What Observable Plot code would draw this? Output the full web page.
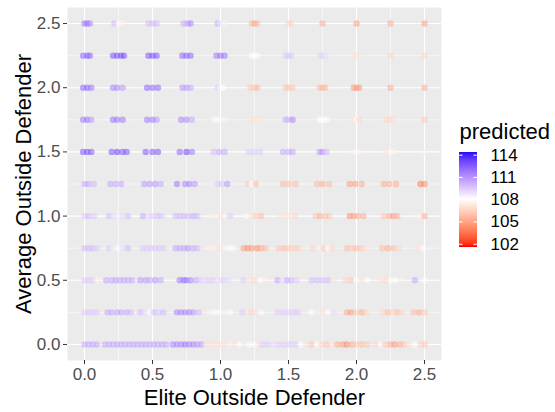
<!DOCTYPE html>
<html><head><meta charset="utf-8">
<script src="https://cdn.jsdelivr.net/npm/d3@7"></script>
<script src="https://cdn.jsdelivr.net/npm/@observablehq/plot@0.6"></script>
<style>
body{margin:0;background:#fff;}
#wrap{position:relative;width:555px;height:412px;font-family:"Liberation Sans",Arial,sans-serif;}
#main{position:absolute;left:0;top:0;}
#legend{position:absolute;left:447px;top:115px;}
</style></head><body><div id="wrap"><div id="main"></div><div id="legend"></div></div>
<script>
const xTitle = "Elite Outside Defender";
const yTitle = "Average Outside Defender";
const legendTitle = "predicted";
const majorTicks = [0, 0.5, 1, 1.5, 2, 2.5];
const minorTicks = [0.25, 0.75, 1.25, 1.75, 2.25];
const legendTicks = [102, 105, 108, 111, 114];
const rowLevels = [2.5, 2.25, 2.0, 1.75, 1.5, 1.25, 1.0, 0.75, 0.5, 0.25, 0];

// each row: [Elite Outside Defender, predicted]
const r250 = [[0,112],[0.02,112],[0.04,111.5],[0.22,110],[0.25,108],[0.28,107.5],[0.47,110],[0.5,110],[0.53,110],[0.73,110.5],[0.76,110.5],[0.78,111.5],[0.98,110.5],[1.0,108.5],[1.03,107.5],[1.23,105.5],[1.25,105],[1.27,105.5],[1.5,106.5],[1.52,106.5],[1.75,105],[2.0,104.5],[2.25,105],[2.5,104.5]];
const r225 = [[-0.01,112.5],[0.02,112.5],[0.04,112.5],[0.21,113],[0.24,113],[0.27,113],[0.29,113],[0.47,113],[0.5,113],[0.53,113],[0.72,112.5],[0.75,112.5],[0.78,112.5],[0.97,112],[1.0,112],[1.03,112],[1.23,108],[1.25,108],[1.27,108],[1.48,109.5],[1.5,109.5],[1.52,109.5],[1.74,109.5],[1.77,109],[1.99,107],[2.01,107],[2.25,106.5],[2.5,106.5]];
const r200 = [[-0.01,112.5],[0.02,112.5],[0.05,112],[0.21,111.5],[0.24,111.5],[0.28,111],[0.46,112.5],[0.5,112.5],[0.54,112.5],[0.72,111],[0.75,111],[0.78,110.5],[0.98,109.5],[1.0,108],[1.02,108],[1.22,106],[1.25,106],[1.27,105.5],[1.48,106],[1.5,106],[1.53,106],[1.73,105.5],[1.75,105.5],[1.77,105.5],[1.98,104.5],[2.0,104.5],[2.02,104.5],[2.25,105],[2.5,105]];
const r175 = [[-0.01,112],[0.02,112],[0.05,111],[0.21,112],[0.24,112],[0.28,112],[0.46,112],[0.5,112],[0.53,111],[0.71,111.5],[0.75,111.5],[0.79,110.5],[0.96,108],[1.0,108],[1.03,107.5],[1.22,107],[1.25,107],[1.28,107],[1.48,110.5],[1.5,110],[1.53,111.5],[1.73,108],[1.75,108],[1.78,108],[1.98,107],[2.0,108],[2.02,106.5],[2.22,106.5],[2.25,106.5],[2.27,107],[2.5,106]];
const r150 = [[-0.01,113],[0.02,113],[0.05,113],[0.2,113],[0.24,113.5],[0.28,113],[0.31,113],[0.45,113],[0.5,113],[0.54,113],[0.7,112.5],[0.75,113.5],[0.79,112],[0.95,110],[0.99,110.5],[1.03,110.5],[1.21,109.5],[1.25,109.5],[1.29,109.5],[1.46,110.5],[1.5,110.5],[1.53,110.5],[1.73,111],[1.75,111],[1.78,110],[1.97,107.5],[2.0,108],[2.03,107.5],[2.22,107],[2.25,108],[2.27,107.5],[2.5,107.5]];
const r125 = [[0,110.5],[0.03,110.5],[0.07,110],[0.19,110.5],[0.23,110.5],[0.27,110.5],[0.31,108.5],[0.44,111],[0.48,111],[0.52,111],[0.56,110.5],[0.68,112],[0.74,111.5],[0.77,111.5],[0.81,111],[0.94,108.5],[0.98,109.5],[1.01,109.5],[1.05,111],[1.2,106],[1.23,108],[1.26,105.5],[1.3,107.5],[1.46,105.5],[1.5,105.5],[1.55,105.5],[1.71,105.5],[1.75,105],[1.8,105.5],[1.95,104.5],[1.99,104.5],[2.04,105],[2.2,105],[2.24,105],[2.29,105],[2.47,103.5],[2.5,104]];
const r100 = [[0,109.5],[0.03,110],[0.07,109.5],[0.18,110],[0.21,109],[0.25,108.5],[0.28,109],[0.32,110],[0.43,110.5],[0.47,109],[0.5,109.5],[0.54,110],[0.57,109.5],[0.67,110],[0.7,110],[0.73,110],[0.76,110],[0.8,110.5],[0.83,110],[0.94,107.5],[0.97,107.5],[1.0,107],[1.03,107.5],[1.07,109.5],[1.19,108],[1.22,107],[1.26,106],[1.3,105.5],[1.44,107],[1.47,107],[1.51,107],[1.55,106.5],[1.7,106],[1.73,105],[1.77,105.5],[1.8,106],[1.95,104],[1.98,104.5],[2.01,105],[2.05,105],[2.2,106],[2.24,105],[2.27,104.5],[2.3,105],[2.46,107.5],[2.5,105]];
const r075 = [[0,110],[0.03,110],[0.06,110],[0.09,109.5],[0.18,109.5],[0.21,108.5],[0.25,108],[0.28,109],[0.32,110],[0.43,109.5],[0.46,109.5],[0.49,109.5],[0.52,109.5],[0.55,109.5],[0.58,109.5],[0.67,110.5],[0.7,110.5],[0.73,110.5],[0.76,111],[0.8,110.5],[0.83,110],[0.92,107.5],[0.95,107.5],[0.99,107],[1.03,107.5],[1.06,108],[1.09,108],[1.17,104.5],[1.2,104],[1.23,104.5],[1.27,104],[1.3,105],[1.33,105.5],[1.43,106],[1.47,105.5],[1.51,106],[1.55,106],[1.58,106.5],[1.68,106.5],[1.72,107.5],[1.76,106],[1.79,108],[1.82,106.5],[1.93,105.5],[1.97,106],[2.0,105.5],[2.04,106],[2.07,107],[2.19,105.5],[2.23,105],[2.27,105.5],[2.31,106.5],[2.45,107],[2.49,108]];
const r050 = [[0,109.5],[0.03,109.5],[0.06,109.5],[0.09,107.5],[0.16,110.5],[0.2,110.5],[0.23,110.5],[0.26,110.5],[0.29,110.5],[0.32,110.5],[0.35,110.5],[0.41,111],[0.45,111],[0.48,110.5],[0.52,111],[0.56,110.5],[0.7,112],[0.73,112],[0.75,112],[0.78,111.5],[0.82,110.5],[0.85,109.5],[0.9,109.5],[0.94,109.5],[0.98,109],[1.02,109.5],[1.06,109],[1.1,108.5],[1.17,109.5],[1.21,107],[1.25,106.5],[1.29,108],[1.33,107.5],[1.42,110.5],[1.45,109],[1.49,110.5],[1.52,110],[1.56,109.5],[1.67,110],[1.71,110],[1.75,110],[1.79,110],[1.83,107],[1.92,106.5],[1.96,106],[2.0,108],[2.04,107],[2.08,108],[2.18,107],[2.22,106.5],[2.25,108],[2.29,108],[2.33,107.5],[2.43,110.5],[2.5,108]];
const r025 = [[0,109.5],[0.03,109.5],[0.06,109.5],[0.09,109.5],[0.17,110.5],[0.2,110.5],[0.24,110.5],[0.27,110.5],[0.31,110.5],[0.34,110],[0.41,110],[0.44,109],[0.48,108],[0.51,110],[0.55,109.5],[0.58,110],[0.68,111.5],[0.71,111.5],[0.74,111.5],[0.77,111.5],[0.8,111],[0.84,110],[0.91,107.5],[0.95,108],[0.99,108],[1.03,107.5],[1.07,108],[1.16,109.5],[1.2,107],[1.23,106.5],[1.27,107],[1.3,108],[1.42,109.5],[1.46,109.5],[1.5,109.5],[1.54,109.5],[1.57,109.5],[1.67,108],[1.71,108.5],[1.75,107],[1.79,108],[1.83,109],[1.93,105],[1.96,104.5],[2.0,106],[2.04,105],[2.07,106.5],[2.19,106.5],[2.23,105.5],[2.26,106.5],[2.3,105.5],[2.33,106.5],[2.42,105.5],[2.46,105],[2.5,106]];
const r000 = [[0,110.5],[0.03,110.5],[0.06,110.5],[0.09,110.5],[0.15,110.5],[0.18,110.5],[0.21,110.5],[0.24,110.5],[0.27,110.5],[0.3,110.5],[0.33,110.5],[0.36,110.5],[0.39,110.5],[0.42,110.5],[0.45,110.5],[0.48,110.5],[0.51,110.5],[0.54,110.5],[0.57,110.5],[0.6,110.5],[0.65,111.5],[0.68,111.5],[0.71,111.5],[0.74,112],[0.77,111.5],[0.8,111.5],[0.83,111],[0.86,111],[0.89,107],[0.92,107],[0.95,107],[0.98,107],[1.01,107],[1.04,107],[1.07,107.5],[1.1,107],[1.14,108],[1.17,108.5],[1.21,108],[1.25,108],[1.28,107],[1.31,109.5],[1.35,109.5],[1.39,109],[1.43,109.5],[1.47,109.5],[1.51,109.5],[1.55,109.5],[1.59,108],[1.63,107],[1.67,106],[1.71,108],[1.74,106.5],[1.78,106],[1.82,107],[1.86,105],[1.9,104.5],[1.93,104],[1.97,105],[2.0,106],[2.04,105.5],[2.08,106],[2.14,106.5],[2.18,108],[2.21,106],[2.25,105],[2.28,104.5],[2.32,105],[2.35,106],[2.39,107],[2.43,108],[2.47,106.5],[2.5,106]];

const rows = [r250, r225, r200, r175, r150, r125, r100, r075, r050, r025, r000];
const data = rows.flatMap((pts, i) => pts.map(([x, p]) => ({x, y: rowLevels[i], p})));

const colorDomain = [101.6, 108, 114.4];
const colorScale = {type: "linear", domain: colorDomain, range: ["#FF0000", "#FFFFFF", "#0000FF"], interpolate: "lab", clamp: true};
const font = "Liberation Sans, Arial, sans-serif";

const main = Plot.plot({
  width: 555, height: 412,
  marginLeft: 67, marginRight: 114, marginTop: 7, marginBottom: 52,
  style: {fontFamily: font, background: "transparent", overflow: "visible"},
  x: {domain: [-0.125, 2.625], axis: null},
  y: {domain: [-0.125, 2.625], axis: null},
  color: colorScale,
  marks: [
    Plot.frame({fill: "#EBEBEB", stroke: null}),
    Plot.ruleX(minorTicks, {stroke: "white", strokeWidth: 0.55}),
    Plot.ruleY(minorTicks, {stroke: "white", strokeWidth: 0.55}),
    Plot.ruleX(majorTicks, {stroke: "white", strokeWidth: 1.1}),
    Plot.ruleY(majorTicks, {stroke: "white", strokeWidth: 1.1}),
    Plot.dot(data, {x: "x", y: "y", fill: "p", r: 3.2, fillOpacity: 0.5, stroke: null}),
    Plot.axisX(majorTicks, {tickFormat: d3.format(".1f"), tickSize: 4, tickPadding: 3, fontSize: 17, fill: "#4D4D4D", stroke: "#333333", label: null}),
    Plot.axisY(majorTicks, {tickFormat: d3.format(".1f"), tickSize: 4, tickPadding: 3, fontSize: 17, fill: "#4D4D4D", stroke: "#333333", label: null}),
    Plot.text([xTitle], {text: d => d, frameAnchor: "bottom", dy: 37, lineAnchor: "middle", textAnchor: "middle", fontSize: 22, fill: "black"}),
    Plot.text([yTitle], {text: d => d, frameAnchor: "left", dx: -44, rotate: -90, lineAnchor: "middle", textAnchor: "middle", fontSize: 22, fill: "black"})
  ]
});
document.getElementById("main").appendChild(main);

const rampStep = 0.05;
const ramp = d3.range(colorDomain[0], colorDomain[2], rampStep);
const legend = Plot.plot({
  width: 108, height: 140,
  marginLeft: 12, marginRight: 78, marginTop: 36.7, marginBottom: 8.3,
  style: {fontFamily: font, background: "transparent", overflow: "visible"},
  x: {domain: [0, 1], axis: null},
  y: {domain: [colorDomain[0], colorDomain[2]], axis: null},
  color: colorScale,
  marks: [
    Plot.rect(ramp, {x1: 0, x2: 1, y1: d => d, y2: d => Math.min(d + rampStep * 1.6, colorDomain[2]), fill: d => d, shapeRendering: "crispEdges"}),
    Plot.ruleY(legendTicks, {x1: 0, x2: 0.2, stroke: "white", strokeWidth: 1}),
    Plot.ruleY(legendTicks, {x1: 0.8, x2: 1, stroke: "white", strokeWidth: 1}),
    Plot.text(legendTicks, {x: 1, y: d => d, text: d => String(d), dx: 13, textAnchor: "start", fontSize: 17, fill: "black"}),
    Plot.text([legendTitle], {text: d => d, frameAnchor: "top-left", dy: -20.7, lineAnchor: "middle", textAnchor: "start", fontSize: 22, fill: "black"})
  ]
});
document.getElementById("legend").appendChild(legend);
</script></body></html>
